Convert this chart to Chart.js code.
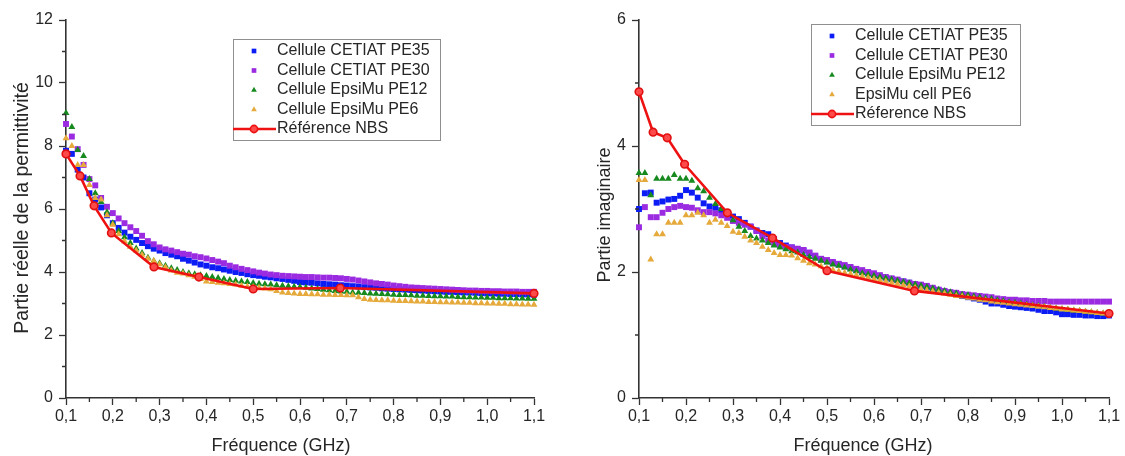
<!DOCTYPE html>
<html>
<head>
<meta charset="utf-8">
<script src="https://cdn.jsdelivr.net/npm/chart.js@4.4.1/dist/chart.umd.min.js"></script>
<style>
  html, body { margin: 0; padding: 0; background: #fff; }
  .wrap { position: relative; width: 1125px; height: 456px; }
  #chart-real { position: absolute; left: 0; top: 0; }
  #chart-imag { position: absolute; left: 570px; top: 0; }
</style>
</head>
<body>
<div class="wrap">
  <canvas id="chart-real" width="570" height="456"></canvas>
  <canvas id="chart-imag" width="555" height="456"></canvas>
</div>
<script>
// start: data
const freq = [
  0.1, 0.1125, 0.125, 0.1375, 0.15, 0.1625, 0.175, 0.1875, 0.2, 0.2125,
  0.225, 0.2375, 0.25, 0.2625, 0.275, 0.2875, 0.3, 0.3125, 0.325, 0.3375,
  0.35, 0.3625, 0.375, 0.3875, 0.4, 0.4125, 0.425, 0.4375, 0.45, 0.4625,
  0.475, 0.4875, 0.5, 0.5125, 0.525, 0.5375, 0.55, 0.5625, 0.575, 0.5875,
  0.6, 0.6125, 0.625, 0.6375, 0.65, 0.6625, 0.675, 0.6875, 0.7, 0.7125,
  0.725, 0.7375, 0.75, 0.7625, 0.775, 0.7875, 0.8, 0.8125, 0.825, 0.8375,
  0.85, 0.8625, 0.875, 0.8875, 0.9, 0.9125, 0.925, 0.9375, 0.95, 0.9625,
  0.975, 0.9875, 1.0, 1.0125, 1.025, 1.0375, 1.05, 1.0625, 1.075, 1.0875,
  1.1
]

// partie réelle
const realPE35 = [
  7.85, 7.75, 7.25, 7.0, 6.5, 6.3, 6.05, 5.8, 5.55, 5.4,
  5.25, 5.12, 5.02, 4.92, 4.82, 4.74, 4.68, 4.6, 4.55, 4.5,
  4.42, 4.36, 4.3, 4.24, 4.2, 4.15, 4.12, 4.08, 4.04, 4.0,
  3.97, 3.93, 3.9, 3.88, 3.85, 3.83, 3.8, 3.78, 3.75, 3.72,
  3.68, 3.67, 3.66, 3.64, 3.62, 3.61, 3.6, 3.58, 3.57, 3.55,
  3.54, 3.52, 3.51, 3.5, 3.48, 3.47, 3.46, 3.45, 3.44, 3.43,
  3.42, 3.41, 3.4, 3.39, 3.38, 3.37, 3.37, 3.36, 3.35, 3.35,
  3.34, 3.33, 3.32, 3.32, 3.31, 3.31, 3.3, 3.3, 3.29, 3.29,
  3.28
]
const realPE30 = [
  8.7, 8.3, 7.9, 7.4, 6.95, 6.75, 6.35, 6.07, 5.87, 5.7,
  5.55, 5.42, 5.3, 5.15, 4.98, 4.88, 4.78, 4.72, 4.68, 4.63,
  4.58, 4.55, 4.5, 4.47, 4.43, 4.38, 4.33, 4.28, 4.2, 4.15,
  4.1, 4.06, 4.02, 3.98, 3.95, 3.92, 3.9, 3.88, 3.87, 3.86,
  3.85, 3.84, 3.84, 3.83, 3.82, 3.82, 3.81, 3.8, 3.78, 3.76,
  3.73, 3.7, 3.67, 3.64, 3.62, 3.6, 3.57, 3.55, 3.53, 3.51,
  3.5, 3.49, 3.48, 3.47, 3.46, 3.45, 3.44, 3.43, 3.42, 3.41,
  3.41, 3.4, 3.4, 3.39, 3.39, 3.38, 3.38, 3.38, 3.37, 3.37,
  3.37
]
const realPE12 = [
  9.05, 8.6, 7.87, 7.68, 6.95, 6.5, 6.22, 5.9, 5.55, 5.3,
  5.1, 4.92, 4.75, 4.6, 4.45, 4.35, 4.28, 4.2, 4.12, 4.06,
  4.0, 3.96, 3.93, 3.9, 3.87, 3.84, 3.81, 3.78, 3.75, 3.72,
  3.7, 3.68, 3.65, 3.63, 3.61, 3.6, 3.58, 3.56, 3.55, 3.53,
  3.52, 3.5, 3.48, 3.46, 3.44, 3.42, 3.4, 3.38, 3.37, 3.35,
  3.34, 3.33, 3.32, 3.31, 3.3, 3.29, 3.28, 3.27, 3.27, 3.26,
  3.25, 3.25, 3.24, 3.23, 3.23, 3.22, 3.22, 3.21, 3.2, 3.2,
  3.19, 3.19, 3.18, 3.18, 3.17, 3.17, 3.17, 3.16, 3.16, 3.15,
  3.15
]
const realPE6 = [
  8.25, 8.0, 7.4, 7.4, 6.76, 6.35, 6.3, 5.8, 5.5, 5.2,
  4.98, 4.8, 4.68, 4.55, 4.42, 4.35, 4.25, 4.15, 4.05, 3.98,
  3.95, 3.9, 3.85, 3.78, 3.7, 3.68, 3.66, 3.64, 3.62, 3.6,
  3.56, 3.54, 3.52, 3.5, 3.48, 3.45, 3.4, 3.35, 3.33, 3.32,
  3.3, 3.3, 3.29, 3.29, 3.28, 3.28, 3.27, 3.27, 3.26, 3.26,
  3.2, 3.14, 3.12, 3.11, 3.1, 3.1, 3.09, 3.08, 3.08, 3.07,
  3.06, 3.06, 3.05, 3.05, 3.04, 3.04, 3.03, 3.03, 3.02, 3.02,
  3.01, 3.01, 3.0, 3.0, 2.99, 2.99, 2.98, 2.98, 2.97, 2.97,
  2.96
]

// partie imaginaire
const imagPE35 = [
  3.0, 3.25, 3.26, 3.1, 3.12, 3.15, 3.16, 3.21, 3.3, 3.26,
  3.18, 3.09, 3.04, 3.02, 2.98, 2.94, 2.88, 2.84, 2.78, 2.72,
  2.66, 2.62, 2.6, 2.52, 2.46, 2.42, 2.39, 2.36, 2.34, 2.3,
  2.25, 2.2, 2.17, 2.14, 2.12, 2.09, 2.06, 2.03, 2.0, 1.98,
  1.95, 1.93, 1.91, 1.89, 1.87, 1.85, 1.83, 1.8, 1.78, 1.76,
  1.73, 1.71, 1.69, 1.67, 1.64, 1.62, 1.6, 1.58, 1.56, 1.53,
  1.5, 1.5, 1.48, 1.46, 1.45, 1.44, 1.43, 1.42, 1.4, 1.38,
  1.38, 1.36, 1.33, 1.33, 1.32, 1.32, 1.31, 1.31, 1.3, 1.3,
  1.31
]
const imagPE30 = [
  2.71, 3.03, 2.87, 2.87, 2.94, 3.0, 3.03, 3.05, 3.03, 3.02,
  2.98, 2.95, 2.95, 2.93, 2.9, 2.86, 2.81, 2.78, 2.75, 2.72,
  2.65, 2.57, 2.5, 2.45, 2.42, 2.4, 2.39, 2.37, 2.35, 2.31,
  2.26, 2.21, 2.19, 2.16, 2.13, 2.11, 2.08, 2.05, 2.03, 2.0,
  1.98, 1.95, 1.92, 1.9, 1.88, 1.85, 1.83, 1.81, 1.8, 1.78,
  1.75, 1.72, 1.7, 1.68, 1.67, 1.65, 1.64, 1.63, 1.62, 1.61,
  1.6, 1.58, 1.57, 1.56, 1.56, 1.55, 1.55, 1.54, 1.54, 1.54,
  1.53, 1.53, 1.53, 1.53, 1.53, 1.53, 1.53, 1.53, 1.53, 1.53,
  1.53
]
const imagPE12 = [
  3.57, 3.57, 3.22, 3.48, 3.48, 3.48, 3.54, 3.48, 3.48, 3.45,
  3.33, 3.28, 3.18, 3.08, 3.0, 2.92, 2.82, 2.72, 2.65, 2.57,
  2.53, 2.5, 2.46, 2.42, 2.39, 2.36, 2.33, 2.31, 2.27, 2.24,
  2.21, 2.18, 2.15, 2.12, 2.1, 2.07, 2.04, 2.01, 1.98, 1.96,
  1.94, 1.92, 1.9, 1.88, 1.86, 1.84, 1.82, 1.8, 1.78, 1.76,
  1.74, 1.72, 1.7, 1.68, 1.66, 1.64, 1.63, 1.61, 1.6, 1.58,
  1.57, 1.55, 1.54, 1.52, 1.51, 1.5, 1.48, 1.47, 1.46, 1.45,
  1.43, 1.42, 1.41, 1.4, 1.39, 1.38, 1.37, 1.36, 1.35, 1.34,
  1.33
]
const imagPE6 = [
  3.46, 3.46, 2.2, 2.6, 2.6, 2.78, 2.78, 2.78, 2.9, 2.9,
  2.94, 2.9, 2.78, 2.83, 2.78, 2.73, 2.64, 2.62, 2.56, 2.5,
  2.46, 2.4, 2.35, 2.3, 2.27, 2.27, 2.26, 2.22, 2.18, 2.14,
  2.12, 2.09, 2.06, 2.03, 2.01, 1.99, 1.97, 1.95, 1.93, 1.91,
  1.89, 1.87, 1.85, 1.83, 1.81, 1.79, 1.77, 1.75, 1.73, 1.71,
  1.69, 1.67, 1.66, 1.64, 1.62, 1.61, 1.59, 1.58, 1.56, 1.55,
  1.53, 1.52, 1.51, 1.5, 1.49, 1.48, 1.47, 1.46, 1.45, 1.44,
  1.43, 1.42, 1.41, 1.4, 1.39, 1.38, 1.37, 1.36, 1.35, 1.34,
  1.33
]

// référence NBS
const nbsFreq = [0.1, 0.13, 0.16, 0.197, 0.288, 0.384, 0.5, 0.686, 1.1]
const nbsReal = [7.75, 7.05, 6.1, 5.24, 4.16, 3.84, 3.46, 3.49, 3.32]
const nbsImag = [4.86, 4.22, 4.13, 3.71, 2.94, 2.54, 2.02, 1.70, 1.34]

const realLabels = ['Cellule CETIAT PE35', 'Cellule CETIAT PE30', 'Cellule EpsiMu PE12', 'Cellule EpsiMu PE6', 'Référence NBS']
const imagLabels = ['Cellule CETIAT PE35', 'Cellule CETIAT PE30', 'Cellule EpsiMu PE12', 'EpsiMu cell PE6', 'Réference NBS']
const freqTicks = [0.1, 0.2, 0.3, 0.4, 0.5, 0.6, 0.7, 0.8, 0.9, 1.0, 1.1]
// end: data

const FONT = '"Liberation Sans", Arial, sans-serif'
const AXIS = '#333333'
const TEXT = '#262626'
const colors = ['#0b1cf5', '#9b2be0', '#168a1e', '#e6aa3c', '#ee1111']
const markers = ['rect', 'rect', 'triangle', 'triangle']

// start: plugins
const boxLegend = {
  id: 'boxLegend',
  afterDraw(chart, args, opts) {
    const ctx = chart.ctx
    ctx.save()
    ctx.fillStyle = '#fff'
    ctx.fillRect(opts.x, opts.y, opts.w, opts.h)
    ctx.strokeStyle = '#8f8f8f'
    ctx.lineWidth = 1
    ctx.strokeRect(opts.x + 0.5, opts.y + 0.5, opts.w, opts.h)
    ctx.font = '16px ' + FONT
    ctx.textBaseline = 'middle'
    chart.data.datasets.forEach(function (ds, i) {
      const y = opts.y + 12 + i * 19.5
      const mx = opts.x + 21
      if (ds.showLine) {
        ctx.strokeStyle = ds.borderColor
        ctx.lineWidth = ds.borderWidth
        ctx.beginPath()
        ctx.moveTo(opts.x, y)
        ctx.lineTo(opts.x + 43, y)
        ctx.stroke()
        ctx.fillStyle = ds.pointBackgroundColor
        ctx.lineWidth = ds.pointBorderWidth
        Chart.helpers.drawPoint(ctx, { pointStyle: 'circle', radius: 3.6, borderWidth: ds.pointBorderWidth }, mx, y)
      } else {
        ctx.fillStyle = ds.backgroundColor
        Chart.helpers.drawPoint(ctx, { pointStyle: ds.pointStyle, radius: 3.3, borderWidth: 0 }, mx, y)
      }
      ctx.fillStyle = TEXT
      ctx.fillText(ds.label, opts.x + 44, y)
    })
    ctx.restore()
  }
}

const minorTicks = {
  id: 'minorTicks',
  afterDraw(chart, args, opts) {
    const ctx = chart.ctx
    const area = chart.chartArea
    ctx.save()
    ctx.strokeStyle = AXIS
    ctx.lineWidth = 1.3
    ctx.beginPath()
    opts.x.forEach(function (v) {
      const p = chart.scales.x.getPixelForValue(v)
      ctx.moveTo(p, area.bottom)
      ctx.lineTo(p, area.bottom + 4)
    })
    opts.y.forEach(function (v) {
      const p = chart.scales.y.getPixelForValue(v)
      ctx.moveTo(area.left, p)
      ctx.lineTo(area.left - 4, p)
    })
    ctx.stroke()
    ctx.restore()
  }
}

const axisTitles = {
  id: 'axisTitles',
  afterDraw(chart, args, opts) {
    const ctx = chart.ctx
    ctx.save()
    ctx.fillStyle = TEXT
    ctx.textAlign = 'center'
    ctx.textBaseline = 'middle'
    ctx.font = '18px ' + FONT
    ctx.fillText(opts.xText, opts.xPos[0], opts.xPos[1])
    ctx.font = opts.ySize + 'px ' + FONT
    ctx.translate(opts.yPos[0], opts.yPos[1])
    ctx.rotate(-Math.PI / 2)
    ctx.fillText(opts.yText, 0, 0)
    ctx.restore()
  }
}
// end: plugins

function points(xs, ys) {
  return xs.map(function (x, i) { return { x: x, y: ys[i] } })
}

function buildDatasets(labels, series, nbs) {
  const sets = series.map(function (ys, i) {
    return {
      label: labels[i],
      data: points(freq, ys),
      showLine: false,
      pointStyle: markers[i],
      pointRadius: markers[i] === 'rect' ? 4.2 : 4,
      backgroundColor: colors[i],
      borderColor: colors[i],
      pointBorderWidth: 0,
      borderWidth: 0,
      clip: false,
      order: 4 - i
    }
  })
  sets.push({
    label: labels[4],
    data: points(nbsFreq, nbs),
    showLine: true,
    borderColor: colors[4],
    borderWidth: 2.6,
    pointStyle: 'circle',
    pointRadius: 3.8,
    pointBackgroundColor: '#ff4a4a',
    pointBorderColor: '#e01010',
    pointBorderWidth: 1.6,
    clip: false,
    order: 0
  })
  return sets
}

function makeChart(id, cfg) {
  return new Chart(document.getElementById(id), {
    type: 'scatter',
    data: { datasets: cfg.datasets },
    plugins: [minorTicks, boxLegend, axisTitles],
    options: {
      responsive: false,
      animation: false,
      events: [],
      layout: { padding: { left: 0, top: 20, right: cfg.padRight, bottom: 0 } },
      plugins: {
        legend: { display: false },
        tooltip: { enabled: false },
        boxLegend: cfg.legend,
        minorTicks: { x: [0.15, 0.25, 0.35, 0.45, 0.55, 0.65, 0.75, 0.85, 0.95, 1.05], y: cfg.minorY },
        axisTitles: cfg.titles
      },
      scales: {
        x: {
          type: 'linear',
          min: 0.1,
          max: 1.1,
          afterFit: function (s) { s.height = 58 },
          afterBuildTicks: function (s) { s.ticks = freqTicks.map(function (v) { return { value: v } }) },
          border: { display: true, color: AXIS, width: 1.6 },
          grid: { drawOnChartArea: false, drawTicks: true, tickLength: 7, tickColor: AXIS, tickWidth: 1.3 },
          ticks: {
            padding: 2,
            color: TEXT,
            font: { family: FONT, size: 16 },
            maxRotation: 0,
            callback: function (v) { return Number(v).toFixed(1).replace('.', ',') }
          }
        },
        y: {
          min: 0,
          max: cfg.yMax,
          afterFit: function (s) { s.width = cfg.yWidth },
          border: { display: true, color: AXIS, width: 1.6 },
          grid: { drawOnChartArea: false, drawTicks: true, tickLength: 7, tickColor: AXIS, tickWidth: 1.3 },
          ticks: {
            stepSize: 2,
            padding: 6,
            color: TEXT,
            font: { family: FONT, size: 16 }
          }
        }
      }
    }
  })
}

makeChart('chart-real', {
  datasets: buildDatasets(realLabels, [realPE35, realPE30, realPE12, realPE6], nbsReal),
  padRight: 36,
  yWidth: 66,
  yMax: 12,
  minorY: [1, 3, 5, 7, 9, 11],
  legend: { x: 233, y: 39, w: 207, h: 101 },
  titles: { xText: 'Fréquence (GHz)', xPos: [281, 446], yText: 'Partie réelle de la permittivité', ySize: 19.5, yPos: [23, 208] }
})

makeChart('chart-imag', {
  datasets: buildDatasets(imagLabels, [imagPE35, imagPE30, imagPE12, imagPE6], nbsImag),
  padRight: 16,
  yWidth: 69,
  yMax: 6,
  minorY: [1, 3, 5],
  legend: { x: 241, y: 24, w: 209, h: 101 },
  titles: { xText: 'Fréquence (GHz)', xPos: [293, 446], yText: 'Partie imaginaire', ySize: 18, yPos: [35, 215] }
})
</script>
</body>
</html>
